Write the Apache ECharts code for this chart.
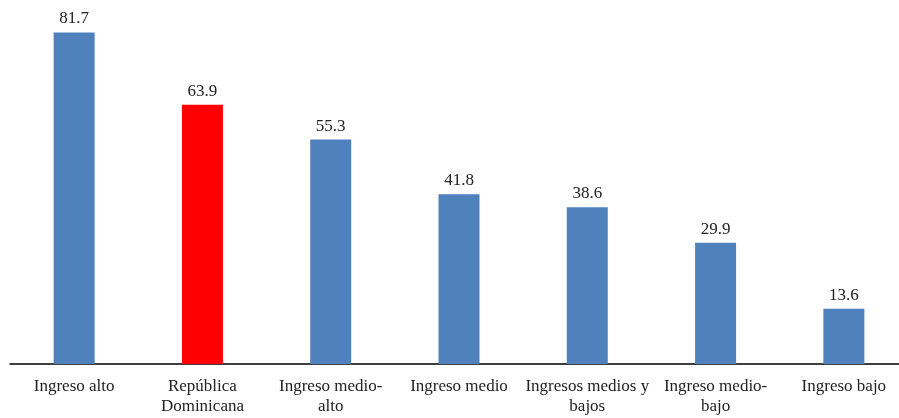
<!DOCTYPE html>
<html>
<head>
<meta charset="utf-8">
<script src="https://cdn.jsdelivr.net/npm/echarts@6/dist/echarts.min.js"></script>
<style>
  html, body { margin: 0; padding: 0; background: #fff; overflow: hidden; }
  #chart { width: 910px; height: 418px; }
</style>
</head>
<body>
<div id="chart"></div>
<script>
// Income groups, ordered from highest to lowest value
const categories = [
  'Ingreso alto',
  'República\nDominicana',
  'Ingreso medio-\nalto',
  'Ingreso medio',
  'Ingresos medios y\nbajos',
  'Ingreso medio-\nbajo',
  'Ingreso bajo'
];
const values = [81.7, 63.9, 55.3, 41.8, 38.6, 29.9, 13.6];
const highlighted = 'República\nDominicana';

const blue = '#4F81BD';
const red = '#FF0000';
const font = '"Liberation Serif", "DejaVu Serif", serif';

const chart = echarts.init(document.getElementById('chart'));
chart.setOption({
  animation: false,
  grid: { left: 10, right: 2, top: 19, bottom: 54, containLabel: false },
  xAxis: {
    type: 'category',
    data: categories,
    axisLine: { show: true, lineStyle: { color: '#000', width: 1.5 } },
    axisTick: { show: false },
    axisLabel: {
      interval: 0,
      margin: 13,
      color: '#222',
      fontFamily: font,
      fontSize: 17,
      lineHeight: 20
    }
  },
  yAxis: {
    type: 'value',
    min: 0,
    max: 85,
    show: false,
    splitLine: { show: false }
  },
  series: [{
    type: 'bar',
    barWidth: 41,
    data: values.map((v, i) => ({
      value: v,
      itemStyle: { color: categories[i] === highlighted ? red : blue }
    })),
    label: {
      show: true,
      position: 'top',
      distance: 5,
      color: '#222',
      fontFamily: font,
      fontSize: 17,
      formatter: p => p.value.toFixed(1)
    }
  }]
});
</script>
</body>
</html>
